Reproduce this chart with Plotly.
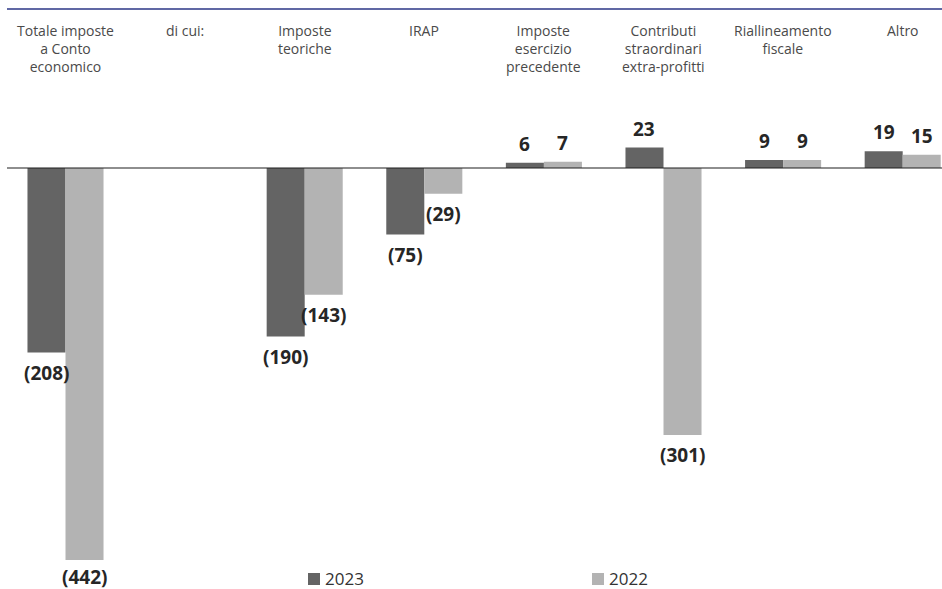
import plotly.graph_objects as go

# Tax breakdown by component, 2023 vs 2022 (values in millions)
categories = [
    "Totale imposte<br>a Conto<br>economico",
    "di cui:",
    "Imposte<br>teoriche",
    "IRAP",
    "Imposte<br>esercizio<br>precedente",
    "Contributi<br>straordinari<br>extra-profitti",
    "Riallineamento<br>fiscale",
    "Altro",
]
values_2023 = [-208, None, -190, -75, 6, 23, 9, 19]
values_2022 = [-442, None, -143, -29, 7, -301, 9, 15]
series_names = ["2023", "2022"]
series_colors = ["#646464", "#b3b3b3"]

W, H = 942, 589
LABEL_FONT = "Open Sans"
VALUE_FONT = "Open Sans"

x_idx = list(range(len(categories)))

fig = go.Figure()
for name, vals, col in zip(series_names, [values_2023, values_2022], series_colors):
    fig.add_trace(go.Bar(
        x=x_idx, y=vals, name=name, marker=dict(color=col, line=dict(width=0)),
        showlegend=False, hoverinfo="skip",
    ))


def fmt(v):
    return f"({abs(v)})" if v < 0 else f"{v}"


bar_w = 0.318
annotations = []
for s, vals in enumerate([values_2023, values_2022]):
    off = -bar_w / 2 if s == 0 else bar_w / 2
    for i, v in enumerate(vals):
        if v is None:
            continue
        # keep the lowest label clear of the bottom edge
        shift = 19 if v >= 0 else (-20 if v > -400 else -17)
        annotations.append(dict(
            x=i + off, y=v, xref="x", yref="y", text=fmt(v), showarrow=False,
            yshift=shift,
            font=dict(family=VALUE_FONT, size=19, color="#262626", weight="bold"),
            xanchor="center", yanchor="middle",
        ))

# category headers along the top
for i, c in enumerate(categories):
    annotations.append(dict(
        x=i, y=1 - 19 / H, xref="x", yref="paper", text=c, showarrow=False,
        xanchor="center", yanchor="top", align="center",
        font=dict(family=LABEL_FONT, size=14, color="#4a4a4a"),
    ))

# legend entries
legend_x = [308, 592]
shapes = []
for name, col, lx in zip(series_names, series_colors, legend_x):
    shapes.append(dict(type="rect", xref="paper", yref="paper",
                       x0=lx / W, x1=(lx + 12) / W,
                       y0=1 - 585 / H, y1=1 - 573 / H,
                       fillcolor=col, line=dict(width=0)))
    annotations.append(dict(
        x=(lx + 15) / W, y=1 - 578.5 / H, xref="paper", yref="paper", text=name,
        showarrow=False, xanchor="left", yanchor="middle",
        font=dict(family=LABEL_FONT, size=17, color="#333333"),
    ))

# top rule and zero baseline
shapes.append(dict(type="line", xref="paper", yref="paper", x0=7 / W, x1=1,
                   y0=1 - 9 / H, y1=1 - 9 / H, line=dict(color="#2b3686", width=1.5)))
shapes.append(dict(type="line", xref="paper", yref="y", x0=7 / W, x1=1,
                   y0=0, y1=0, line=dict(color="#1e1e1e", width=1.2), layer="above"))

step = 119.6
x0px = 65.5
px_per_unit = 0.887
base_px = 168

fig.update_layout(
    width=W, height=H,
    margin=dict(l=0, r=0, t=0, b=0),
    paper_bgcolor="white", plot_bgcolor="white",
    barmode="group", bargap=1 - 2 * bar_w, bargroupgap=0,
    xaxis=dict(range=[-x0px / step, (W - x0px) / step], visible=False, fixedrange=True),
    yaxis=dict(range=[-(H - base_px) / px_per_unit, base_px / px_per_unit],
               visible=False, fixedrange=True),
    annotations=annotations, shapes=shapes,
)

fig.write_html("out.html")
